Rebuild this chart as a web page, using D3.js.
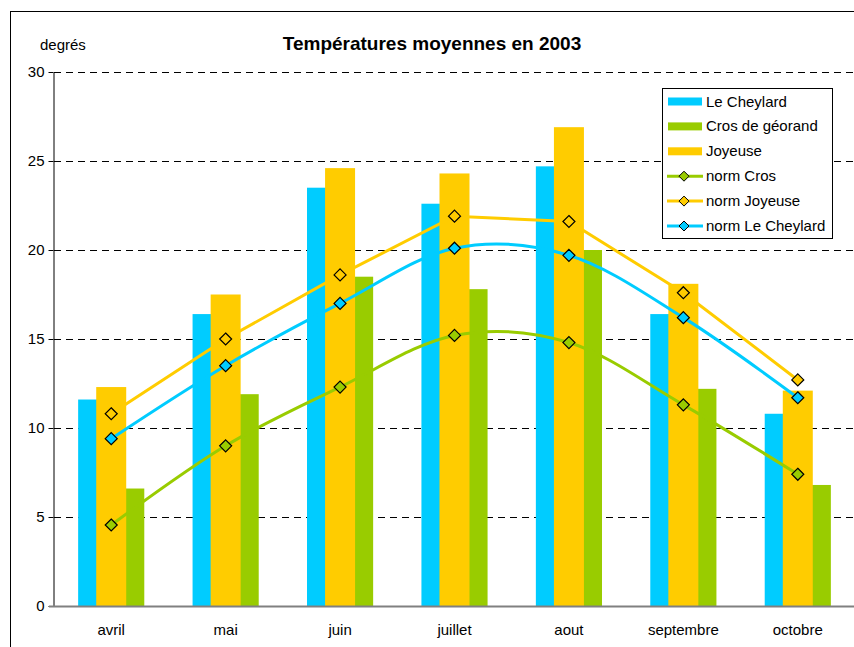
<!DOCTYPE html>
<html>
<head>
<meta charset="utf-8">
<script src="https://cdn.jsdelivr.net/npm/d3@7"></script>
<style>
  body { margin: 0; background: #fff; }
  svg { font-family: Arial, "Liberation Sans", sans-serif; }
</style>
</head>
<body>
<div id="chart"></div>
<script>
// months
var months = ["avril", "mai", "juin", "juillet", "aout", "septembre", "octobre"];
// bars
var cheylard = [11.6, 16.4, 23.5, 22.6, 24.7, 16.4, 10.8];
var cros = [6.6, 11.9, 18.5, 17.8, 20.0, 12.2, 6.8];
var joyeuse = [12.3, 17.5, 24.6, 24.3, 26.9, 18.1, 12.1];
// normals (lines)
var normCros = [4.55, 9.0, 12.3, 15.2, 14.8, 11.3, 7.4];
var normJoyeuse = [10.8, 15.0, 18.6, 21.9, 21.6, 17.6, 12.7];
var normCheylard = [9.4, 13.5, 17.0, 20.1, 19.7, 16.2, 11.7];
var yTicks = [0, 5, 10, 15, 20, 25, 30];

var W = 854, H = 647;
var cyan = "#00ccff", green = "#99cc00", orange = "#ffcc00";

var svg = d3.select("#chart").append("svg")
    .attr("width", W)
    .attr("height", H);

// outer frame
svg.append("rect")
    .attr("x", 10.5).attr("y", 11.5)
    .attr("width", 860).attr("height", 660)
    .attr("fill", "none").attr("stroke", "#000");

var plotLeft = 54, plotRight = 855, plotTop = 72, plotBottom = 606;

var x = d3.scaleBand().domain(months).range([plotLeft, plotRight]).paddingInner(0).paddingOuter(0);
var y = d3.scaleLinear().domain([0, 30]).range([plotBottom, plotTop]);

// clustered bars (primary): two series inside each category
var xPrim = d3.scaleBand().domain(["cheylard", "cros"])
    .range([0, x.bandwidth()]).paddingOuter(0.73).paddingInner(0);
// wide centred bar (secondary)
var secW = 30;

// gridlines
svg.append("g")
    .selectAll("line")
    .data(yTicks.filter(function (d) { return d > 0; }))
    .enter()
    .append("line")
    .attr("x1", plotLeft).attr("x2", W)
    .attr("y1", function (d) { return Math.round(y(d)) + 0.5; })
    .attr("y2", function (d) { return Math.round(y(d)) + 0.5; })
    .attr("stroke", "#000")
    .attr("stroke-dasharray", "7,5");

// bars
var groups = svg.append("g")
    .selectAll("g")
    .data(months)
    .enter()
    .append("g")
    .attr("transform", function (d) { return "translate(" + x(d) + ",0)"; });

groups.append("rect")
    .attr("x", xPrim("cheylard"))
    .attr("width", xPrim.bandwidth())
    .attr("y", function (d, i) { return y(cheylard[i]); })
    .attr("height", function (d, i) { return plotBottom - y(cheylard[i]); })
    .attr("fill", cyan);

groups.append("rect")
    .attr("x", xPrim("cros"))
    .attr("width", xPrim.bandwidth())
    .attr("y", function (d, i) { return y(cros[i]); })
    .attr("height", function (d, i) { return plotBottom - y(cros[i]); })
    .attr("fill", green);

groups.append("rect")
    .attr("x", x.bandwidth() / 2 - secW / 2)
    .attr("width", secW)
    .attr("y", function (d, i) { return y(joyeuse[i]); })
    .attr("height", function (d, i) { return plotBottom - y(joyeuse[i]); })
    .attr("fill", orange);

// axes
var yAxis = d3.axisLeft(y).tickValues(yTicks).tickSize(5).tickSizeOuter(0);
var gy = svg.append("g")
    .attr("transform", "translate(" + (plotLeft - 0.5) + ",0)")
    .call(yAxis);
gy.select(".domain").attr("stroke", "#000");
gy.selectAll("text").attr("font-size", 15).attr("fill", "#000").attr("x", -9);

svg.append("line")
    .attr("x1", plotLeft - 5).attr("x2", W)
    .attr("y1", plotBottom + 0.5).attr("y2", plotBottom + 0.5)
    .attr("stroke", "#808080").attr("stroke-width", 2);

svg.append("g")
    .selectAll("text")
    .data(months)
    .enter()
    .append("text")
    .attr("x", function (d) { return x(d) + x.bandwidth() / 2; })
    .attr("y", 635)
    .attr("text-anchor", "middle")
    .attr("font-size", 15)
    .text(function (d) { return d; });

// lines
var cx = function (d, i) { return x(months[i]) + x.bandwidth() / 2; };
var lineSmooth = d3.line().x(cx).y(function (d) { return y(d); }).curve(d3.curveCatmullRom.alpha(0));
var lineStraight = d3.line().x(cx).y(function (d) { return y(d); });

var series = [
    { data: normCros, color: green, gen: lineSmooth },
    { data: normJoyeuse, color: orange, gen: lineStraight },
    { data: normCheylard, color: cyan, gen: lineSmooth }
];

var diamond = "M0,-6L6,0L0,6L-6,0Z";

series.forEach(function (s) {
    svg.append("path")
        .attr("d", s.gen(s.data))
        .attr("fill", "none")
        .attr("stroke", s.color)
        .attr("stroke-width", 3);
    svg.append("g")
        .selectAll("path")
        .data(s.data)
        .enter()
        .append("path")
        .attr("d", diamond)
        .attr("transform", function (d, i) { return "translate(" + cx(d, i) + "," + y(d) + ")"; })
        .attr("fill", s.color)
        .attr("stroke", "#000")
        .attr("stroke-width", 1.2);
});

// titles
svg.append("text")
    .attr("x", 432).attr("y", 50)
    .attr("text-anchor", "middle")
    .attr("font-size", 19)
    .attr("font-weight", "bold")
    .text("Températures moyennes en 2003");

svg.append("text")
    .attr("x", 40).attr("y", 50)
    .attr("font-size", 15)
    .text("degrés");

// legend
var legendItems = [
    { name: "Le Cheylard", color: cyan, type: "bar" },
    { name: "Cros de géorand", color: green, type: "bar" },
    { name: "Joyeuse", color: orange, type: "bar" },
    { name: "norm Cros", color: green, type: "line" },
    { name: "norm Joyeuse", color: orange, type: "line" },
    { name: "norm Le Cheylard", color: cyan, type: "line" }
];

var legend = svg.append("g").attr("transform", "translate(662,88)");
legend.append("rect")
    .attr("x", 0.5).attr("y", 0.5)
    .attr("width", 170).attr("height", 150)
    .attr("fill", "#fff").attr("stroke", "#000");

var li = legend.selectAll("g.item")
    .data(legendItems)
    .enter()
    .append("g")
    .attr("class", "item")
    .attr("transform", function (d, i) { return "translate(0," + (13.5 + i * 24.9) + ")"; });

li.filter(function (d) { return d.type === "bar"; })
    .append("rect")
    .attr("x", 6).attr("y", -4)
    .attr("width", 34).attr("height", 8)
    .attr("fill", function (d) { return d.color; });

li.filter(function (d) { return d.type === "line"; })
    .append("line")
    .attr("x1", 5).attr("x2", 41)
    .attr("stroke", function (d) { return d.color; })
    .attr("stroke-width", 3);

li.filter(function (d) { return d.type === "line"; })
    .append("path")
    .attr("d", "M0,-5L5,0L0,5L-5,0Z")
    .attr("transform", "translate(22,0)")
    .attr("fill", function (d) { return d.color; })
    .attr("stroke", "#000");

li.append("text")
    .attr("x", 44).attr("y", 5)
    .attr("font-size", 15)
    .text(function (d) { return d.name; });
</script>
</body>
</html>
